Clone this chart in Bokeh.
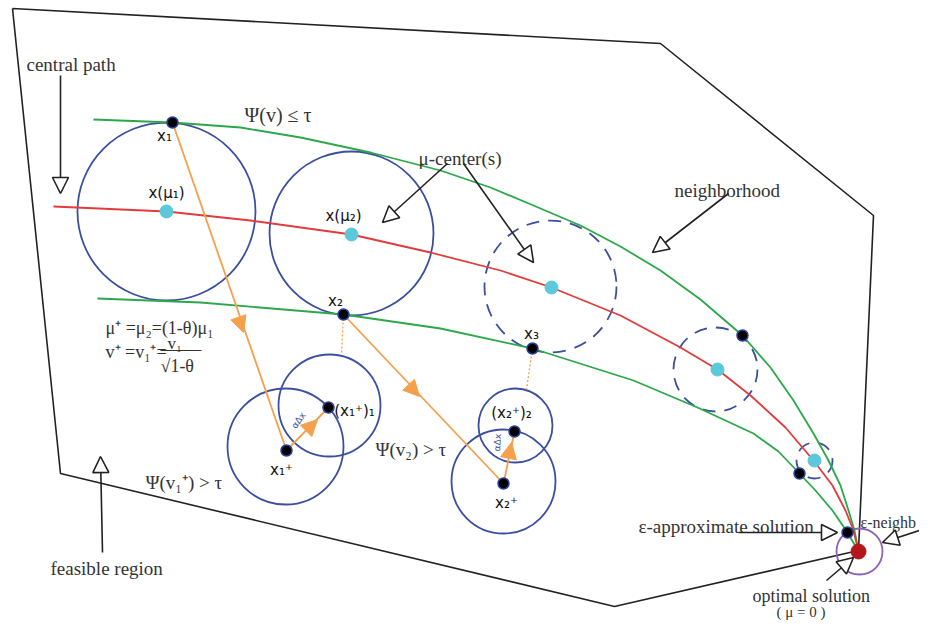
from bokeh.plotting import figure
from bokeh.models import Range1d, Arrow, NormalHead
from bokeh.core.properties import value
from bokeh.embed import file_html
from bokeh.resources import INLINE

# ---- data (image coordinates, y grows downward) ----
region_x = [12, 660, 873, 858, 614, 60, 12]
region_y = [8, 43, 215, 550, 606, 473, 8]

upper_x = [93, 172, 240, 300, 370, 440, 490, 533, 580, 620, 660, 700, 742, 770, 793, 813, 828, 840, 848, 854, 858]
upper_y = [119, 122, 127, 137, 152, 170, 187, 205, 225, 246, 270, 299, 335, 367, 400, 433, 460, 485, 510, 530, 551]

central_x = [53, 166, 250, 351, 430, 500, 551, 620, 680, 717, 750, 785, 813, 832, 845, 853, 858]
central_y = [206, 211, 220, 234, 252, 270, 287, 315, 347, 369, 395, 427, 460, 485, 510, 530, 551]

lower_x = [97, 200, 343, 440, 532, 633, 697, 753, 778, 799, 815, 832, 847, 858]
lower_y = [298, 302, 314, 328, 348, 380, 407, 433, 451, 473, 490, 510, 532, 551]

solid_cx = [166, 351, 285, 329, 503, 515]
solid_cy = [211, 233, 446, 405, 481, 425]
solid_r = [89, 82, 58, 51, 52, 37]

dashed_cx = [550, 715, 814]
dashed_cy = [286, 369, 460]
dashed_r = [66, 42, 18]

eps_cx, eps_cy, eps_r = [859], [551], [23]

centers_x = [166, 351, 551, 717, 814]
centers_y = [211, 234, 287, 369, 460]

iter_x = [172, 343, 532, 742, 799, 847, 286, 328, 503, 514]
iter_y = [122, 314, 348, 335, 473, 532, 450, 407, 483, 431]

opt_x, opt_y = [858], [551]

# orange steps: (start, end, arrow tip)
steps = [
    ((172, 122), (286, 450), (243, 332)),
    ((343, 314), (503, 483), (419, 396)),
    ((286, 450), (328, 407), (317, 419)),
    ((503, 483), (514, 431), (511, 442)),
]
dotted_x = [[343, 341], [532, 526]]
dotted_y = [[314, 354], [348, 389]]

# annotation arrows (start, tip)
pointers = [
    ((60, 75), (60, 193)),
    ((447, 163), (382, 222)),
    ((463, 163), (533, 262)),
    ((728, 193), (652, 252)),
    ((102, 552), (100, 456)),
    ((738, 532), (837, 532)),
    ((919, 530), (882, 542)),
    ((826, 580), (853, 557)),
]

serif_labels = ["central path", "Ψ(v) ≤ τ", "μ-center(s)", "neighborhood", "feasible region",
                "ε-approximate solution", "ε-neighb", "optimal solution", "( μ = 0 )",
                "Ψ(v₁⁺) > τ", "Ψ(v₂) > τ", "μ⁺ =μ₂=(1-θ)μ₁", "v⁺ =v₁⁺=", "v₁", "√1-θ"]
serif_x = [26, 244, 418, 674, 50, 638, 860, 752, 776, 145, 375, 105, 105, 167, 160]
serif_y = [64, 114, 158, 190, 568, 526, 522, 595, 611, 482, 449, 327, 351, 343, 365]
serif_size = ["19px", "20px", "19px", "19px", "19px", "19px", "16px", "18px", "15px",
              "19px", "19px", "18px", "18px", "17px", "18px"]

point_labels = ["x₁", "x(μ₁)", "x(μ₂)", "x₂", "x₃", "x₁⁺", "(x₁⁺)₁", "x₂⁺", "(x₂⁺)₂"]
point_x = [164, 166, 343, 335, 531, 281, 354, 506, 511]
point_y = [135, 192, 215, 300, 333, 469, 410, 502, 412]

step_labels = ["αΔx", "αΔx"]
step_x = [298, 497]
step_y = [420, 442]
step_angle = [0.95, 1.5]

BLUE = "#3c4f9f"
GREEN = "#2ba84a"
RED = "#e23b3b"
ORANGE = "#f4a04c"
CYAN = "#5cc9da"

p = figure(width=919, height=621, x_range=Range1d(0, 919), y_range=Range1d(621, 0),
           output_backend="svg", toolbar_location=None, min_border=0)
p.axis.visible = False
p.grid.visible = False
p.outline_line_color = None

p.line(region_x, region_y, line_color="#222222", line_width=1.6)

p.circle(solid_cx, solid_cy, radius=solid_r, fill_color=None, line_color=BLUE, line_width=1.8)
p.circle(dashed_cx, dashed_cy, radius=dashed_r, fill_color=None, line_color=BLUE,
         line_width=1.8, line_dash="13 9")
p.circle(eps_cx, eps_cy, radius=eps_r, fill_color=None, line_color="#8d62b5", line_width=1.8)

p.line(upper_x, upper_y, line_color=GREEN, line_width=1.8)
p.line(lower_x, lower_y, line_color=GREEN, line_width=1.8)
p.line(central_x, central_y, line_color=RED, line_width=1.8)

p.multi_line(dotted_x, dotted_y, line_color=ORANGE, line_width=1.3, line_dash="2 2")
for (s, e, t) in steps:
    p.line([s[0], e[0]], [s[1], e[1]], line_color=ORANGE, line_width=1.8)
    p.add_layout(Arrow(x_start=s[0], y_start=s[1], x_end=t[0], y_end=t[1], line_alpha=0,
                       end=NormalHead(size=16, fill_color=ORANGE, line_color=ORANGE)))

for (s, t) in pointers:
    p.add_layout(Arrow(x_start=s[0], y_start=s[1], x_end=t[0], y_end=t[1],
                       line_color="#222222", line_width=1.6,
                       end=NormalHead(size=16, fill_color="white", line_color="#222222",
                                      line_width=1.6)))

p.scatter(centers_x, centers_y, size=13, fill_color=CYAN, line_color=CYAN)
p.scatter(iter_x, iter_y, size=11, fill_color="black", line_color="#2a3f9a", line_width=1.5)
p.scatter(opt_x, opt_y, size=15, fill_color="#b3171c", line_color="#b3171c")

# fraction bar
p.line([160, 201], [350, 350], line_color="#333333", line_width=1.2)

for lbl, x, y, fs in zip(serif_labels, serif_x, serif_y, serif_size):
    p.text([x], [y], text=[lbl], text_font=value("Liberation Serif"), text_font_size=fs,
           text_color="#333333", text_baseline="alphabetic", text_align="left")

p.text(point_x, point_y, text=point_labels, text_font=value("DejaVu Sans"),
       text_font_size="15px", text_color="#111111", text_align="center",
       text_baseline="middle")

p.text(step_x, step_y, text=step_labels, angle=step_angle, text_font=value("DejaVu Sans"),
       text_font_size="9px", text_color="#3c4f9f", text_align="center",
       text_baseline="middle")

open("out.html", "w").write(file_html(p, INLINE))
